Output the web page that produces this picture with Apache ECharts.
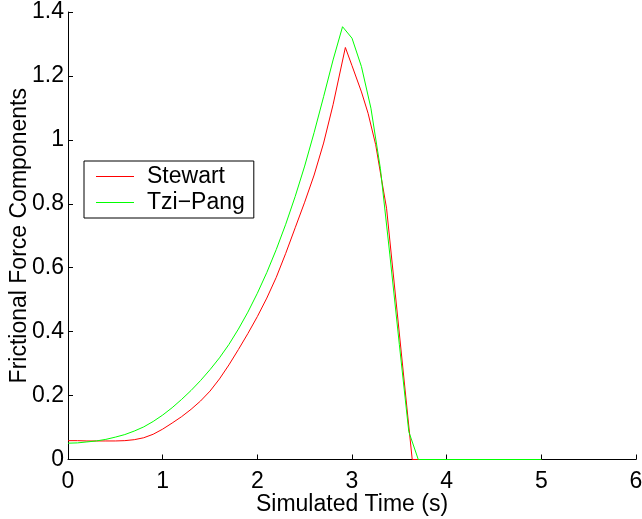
<!DOCTYPE html>
<html>
<head>
<meta charset="utf-8">
<script src="https://cdn.jsdelivr.net/npm/echarts@6/dist/echarts.min.js"></script>
<style>
html,body{margin:0;padding:0;background:#fff;}
#chart{width:642px;height:519px;}
</style>
</head>
<body>
<div id="chart"></div>
<script>
var xTicks = [0, 1, 2, 3, 4, 5, 6];
var yTicks = [0, 0.2, 0.4, 0.6, 0.8, 1, 1.2, 1.4];
var seriesNames = ["Stewart", "Tzi\u2212Pang"];

var stewartTime = [0, 0.1, 0.2, 0.3, 0.4, 0.5, 0.6, 0.7, 0.8, 0.9, 1.0, 1.1, 1.2, 1.3, 1.4, 1.5, 1.6, 1.7, 1.8, 1.9, 2.0, 2.1, 2.2, 2.3, 2.4, 2.5, 2.6, 2.7, 2.8, 2.93, 3.0, 3.1, 3.17, 3.25, 3.31, 3.365, 3.636, 5.0];
var stewartForce = [0.059, 0.059, 0.058, 0.058, 0.058, 0.058, 0.059, 0.062, 0.068, 0.079, 0.095, 0.114, 0.134, 0.157, 0.183, 0.214, 0.252, 0.296, 0.344, 0.394, 0.447, 0.505, 0.570, 0.645, 0.725, 0.805, 0.890, 0.990, 1.110, 1.289, 1.232, 1.150, 1.083, 0.985, 0.880, 0.786, 0.0, 0.0];

var tzipangTime = [0, 0.1, 0.2, 0.3, 0.4, 0.5, 0.6, 0.7, 0.8, 0.9, 1.0, 1.1, 1.2, 1.3, 1.4, 1.5, 1.6, 1.7, 1.8, 1.9, 2.0, 2.1, 2.2, 2.3, 2.4, 2.5, 2.6, 2.7, 2.8, 2.9, 3.0, 3.1, 3.2, 3.3, 3.4, 3.5, 3.6, 3.7, 5.0];
var tzipangForce = [0.051, 0.052, 0.055, 0.058, 0.063, 0.070, 0.078, 0.089, 0.102, 0.119, 0.139, 0.162, 0.188, 0.216, 0.247, 0.281, 0.318, 0.360, 0.408, 0.461, 0.520, 0.585, 0.657, 0.736, 0.823, 0.918, 1.023, 1.135, 1.250, 1.354, 1.318, 1.229, 1.099, 0.910, 0.640, 0.360, 0.087, 0.0, 0.0];

function zip(a, b) { return a.map(function (v, i) { return [v, b[i]]; }); }

var FONT = '"Liberation Sans", Arial, Helvetica, sans-serif';
var FS = 23;
var chart = echarts.init(document.getElementById('chart'), null, {renderer: 'canvas'});
chart.setOption({
  animation: false,
  backgroundColor: '#fff',
  grid: {left: 68, right: 6, top: 12, bottom: 59.5, containLabel: false, outerBoundsMode: 'none'},
  legend: {
    orient: 'vertical',
    left: 84, top: 161,
    padding: [4, 9, 4, 12],
    itemGap: 3,
    itemWidth: 38, itemHeight: 1,
    icon: 'rect',
    borderColor: '#000', borderWidth: 1,
    backgroundColor: '#fff',
    borderRadius: 0,
    data: seriesNames,
    textStyle: {fontFamily: FONT, fontSize: FS, color: '#000', padding: [0, 0, 0, 8]}
  },
  xAxis: {
    type: 'value', min: xTicks[0], max: xTicks[xTicks.length - 1], interval: 1,
    name: 'Simulated Time (s)', nameLocation: 'middle', nameGap: 34, nameMoveOverlap: false,
    nameTextStyle: {fontFamily: FONT, fontSize: FS, color: '#000'},
    axisLine: {show: true, onZero: false, lineStyle: {color: '#000', width: 1}},
    axisTick: {show: true, inside: true, length: 5, lineStyle: {color: '#000'}},
    axisLabel: {fontFamily: FONT, fontSize: FS, color: '#000', margin: 11},
    splitLine: {show: false}
  },
  yAxis: {
    type: 'value', min: yTicks[0], max: yTicks[yTicks.length - 1], interval: 0.2,
    name: 'Frictional Force Components', nameLocation: 'middle', nameGap: 37, nameMoveOverlap: false,
    nameTextStyle: {fontFamily: FONT, fontSize: FS, color: '#000'},
    axisLine: {show: true, onZero: false, lineStyle: {color: '#000', width: 1}},
    axisTick: {show: true, inside: true, length: 5, lineStyle: {color: '#000'}},
    axisLabel: {fontFamily: FONT, fontSize: FS, color: '#000', margin: 4},
    splitLine: {show: false}
  },
  series: [
    {name: seriesNames[0], type: 'line', symbol: 'none', data: zip(stewartTime, stewartForce),
     lineStyle: {color: '#ff0000', width: 1}, itemStyle: {color: '#ff0000'}},
    {name: seriesNames[1], type: 'line', symbol: 'none', data: zip(tzipangTime, tzipangForce),
     lineStyle: {color: '#00ff00', width: 1}, itemStyle: {color: '#00ff00'}}
  ]
});
</script>
</body>
</html>
